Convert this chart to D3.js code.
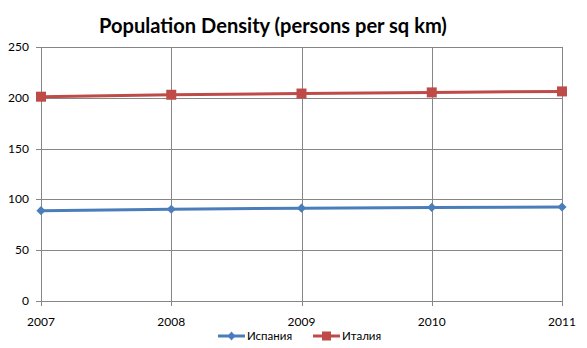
<!DOCTYPE html>
<html><head><meta charset="utf-8">
<script src="https://cdn.jsdelivr.net/npm/d3@7"></script>
<style>body{margin:0;background:#fff}svg{display:block}</style>
</head><body>
<script>
const years = [2007, 2008, 2009, 2010, 2011];
const spain = [88.9, 90.3, 91.4, 92.1, 92.5];
const italy = [201.1, 203.0, 204.2, 205.3, 206.3];
const seriesNames = ["Испания", "Италия"];
const yTicks = [0, 50, 100, 150, 200, 250];
const title = "Population Density (persons per sq km)";

const W = 587, H = 348;
const m = {l: 41, r: 25, t: 47, b: 47};
const svg = d3.select("body").append("svg").attr("width", W).attr("height", H);
const font = "Lato, 'Open Sans', sans-serif";

const x = d3.scalePoint().domain(years).range([m.l, W - m.r]);
const y = d3.scaleLinear().domain([0, 250]).range([H - m.b, m.t]);
const grid = "#868686";

// gridlines
svg.append("g").selectAll("line").data(yTicks).join("line")
  .attr("x1", m.l - 5).attr("x2", W - m.r)
  .attr("y1", d => Math.round(y(d)) + 0.5).attr("y2", d => Math.round(y(d)) + 0.5)
  .attr("stroke", grid).attr("stroke-width", 1);
svg.append("g").selectAll("line").data(years).join("line")
  .attr("x1", d => Math.round(x(d)) + 0.5).attr("x2", d => Math.round(x(d)) + 0.5)
  .attr("y1", m.t).attr("y2", H - m.b + 5)
  .attr("stroke", grid).attr("stroke-width", 1);

// y labels
svg.append("g").selectAll("text").data(yTicks).join("text")
  .attr("x", m.l - 12).attr("y", d => y(d) + 4)
  .attr("text-anchor", "end").attr("font-family", font).attr("font-size", 12)
  .attr("fill", "#000").text(d => d);
// x labels
svg.append("g").selectAll("text").data(years).join("text")
  .attr("x", d => x(d)).attr("y", H - m.b + 25)
  .attr("text-anchor", "middle").attr("font-family", font).attr("font-size", 12)
  .attr("fill", "#000").text(d => d);

const colors = ["#4A7EBB", "#BE4B48"];
const data = [spain, italy];
const line = d3.line().x((d, i) => x(years[i])).y(d => y(d));
data.forEach((vals, k) => {
  svg.append("path").attr("d", line(vals)).attr("fill", "none")
    .attr("stroke", colors[k]).attr("stroke-width", 3);
  const g = svg.append("g");
  vals.forEach((v, i) => {
    const cx = x(years[i]), cy = y(v);
    if (k === 0) {
      g.append("path").attr("d", "M0,-4.6L4.6,0L0,4.6L-4.6,0Z")
        .attr("transform", `translate(${cx},${cy})`)
        .attr("fill", colors[k]);
    } else {
      g.append("rect").attr("x", cx - 5).attr("y", cy - 5).attr("width", 10).attr("height", 10)
        .attr("fill", colors[k]);
    }
  });
});

// legend
const leg = [{x0: 218, name: seriesNames[0], k: 0}, {x0: 313, name: seriesNames[1], k: 1}];
const ly = 336;
leg.forEach(L => {
  svg.append("line").attr("x1", L.x0).attr("x2", L.x0 + 27).attr("y1", ly).attr("y2", ly)
    .attr("stroke", colors[L.k]).attr("stroke-width", 3);
  const cx = L.x0 + 13.5;
  if (L.k === 0) {
    svg.append("path").attr("d", "M0,-4.5L4,0L0,4.5L-4,0Z")
      .attr("transform", `translate(${cx},${ly})`).attr("fill", colors[0]);
  } else {
    svg.append("rect").attr("x", cx - 4.5).attr("y", ly - 4.5).attr("width", 9).attr("height", 9)
      .attr("fill", colors[1]);
  }
  svg.append("text").attr("x", L.x0 + 29).attr("y", ly + 4).attr("font-family", font)
    .attr("font-size", 11.5).attr("fill", "#000").text(L.name);
});

// title
const t = svg.append("text").attr("x", 273).attr("y", 33).attr("text-anchor", "middle")
  .attr("font-family", font).attr("font-weight", "bold").attr("font-size", 22)
  .attr("fill", "#000").text(title);
const tw = t.node().getComputedTextLength();
t.attr("font-size", 22 * 348 / tw);
</script>
</body></html>
